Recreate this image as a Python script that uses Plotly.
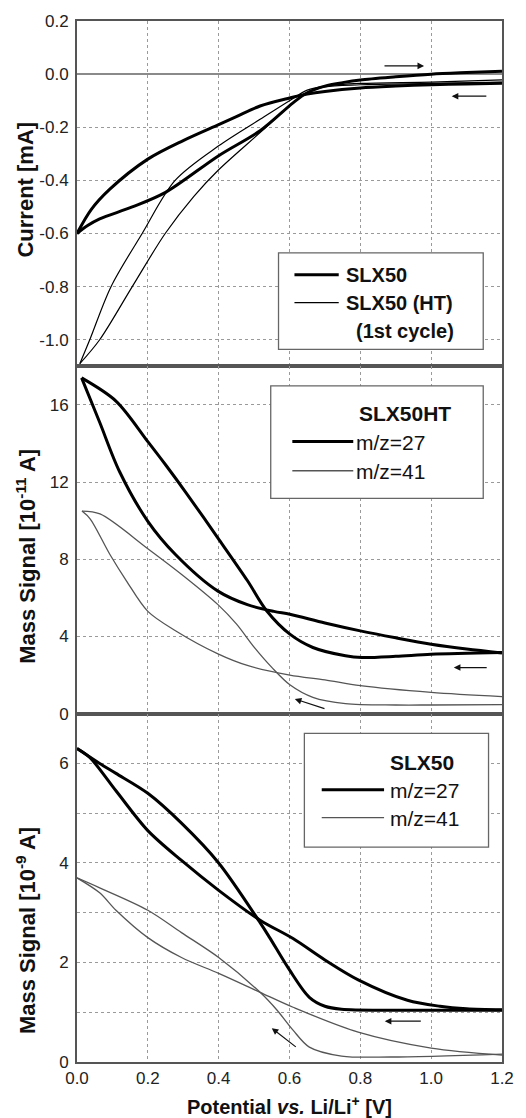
import plotly.graph_objects as go
from plotly.subplots import make_subplots

# ---------------- data ----------------
# Top panel: cyclic voltammograms (current, mA); each loop as two sweep branches
slx50_neg_x = [1.2, 1.1, 1.0, 0.9, 0.8, 0.7, 0.65, 0.6, 0.517, 0.45, 0.4, 0.3, 0.2, 0.092, 0.04, 0.0]
slx50_neg_y = [-0.034, -0.037, -0.04, -0.045, -0.052, -0.065, -0.075, -0.09, -0.12, -0.16, -0.19, -0.25, -0.32, -0.434, -0.51, -0.6]
slx50_pos_x = [0.0, 0.03, 0.064, 0.156, 0.25, 0.4, 0.517, 0.61, 0.65, 0.7, 0.75, 0.8, 0.9, 1.0, 1.1, 1.2]
slx50_pos_y = [-0.6, -0.57, -0.545, -0.50, -0.445, -0.307, -0.213, -0.108, -0.07, -0.045, -0.032, -0.022, -0.01, 0.0, 0.006, 0.011]
slx50ht_neg_x = [1.2, 1.0, 0.8, 0.7, 0.65, 0.6, 0.517, 0.4, 0.277, 0.184, 0.096, 0.036, 0.008]
slx50ht_neg_y = [-0.022, -0.03, -0.035, -0.045, -0.06, -0.1, -0.17, -0.27, -0.4, -0.6, -0.8, -1.0, -1.09]
slx50ht_pos_x = [0.008, 0.064, 0.156, 0.249, 0.33, 0.4, 0.517, 0.6, 0.65, 0.7, 0.8, 1.0, 1.2]
slx50ht_pos_y = [-1.09, -1.0, -0.8, -0.6, -0.46, -0.36, -0.22, -0.12, -0.07, -0.048, -0.04, -0.035, -0.03]

# Middle panel: SLX50HT mass signals (1e-11 A)
ht27_a_x = [1.2, 1.1, 1.0, 0.9, 0.8, 0.7, 0.601, 0.556, 0.481, 0.398, 0.278, 0.2, 0.12, 0.064, 0.013]
ht27_a_y = [3.15, 3.35, 3.6, 3.93, 4.29, 4.7, 5.15, 5.3, 5.65, 6.35, 8.25, 9.97, 12.55, 15.1, 17.4]
ht27_b_x = [0.013, 0.11, 0.2, 0.25, 0.306, 0.398, 0.481, 0.536, 0.601, 0.666, 0.758, 0.805, 0.9, 1.0, 1.2]
ht27_b_y = [17.4, 16.2, 14.1, 12.9, 11.5, 9.1, 6.9, 5.32, 4.12, 3.43, 3.0, 2.91, 2.97, 3.08, 3.17]
ht41_a_x = [1.2, 1.0, 0.8, 0.7, 0.601, 0.481, 0.398, 0.278, 0.2, 0.139, 0.093, 0.037, 0.014]
ht41_a_y = [0.88, 1.1, 1.45, 1.75, 2.0, 2.5, 3.1, 4.3, 5.3, 6.9, 8.25, 10.1, 10.5]
ht41_b_x = [0.014, 0.065, 0.2, 0.3, 0.398, 0.45, 0.5, 0.55, 0.601, 0.666, 0.758, 0.9, 1.0, 1.2]
ht41_b_y = [10.5, 10.35, 8.55, 7.15, 5.65, 4.65, 3.45, 2.4, 1.5, 0.85, 0.52, 0.45, 0.45, 0.47]

# Bottom panel: SLX50 mass signals (1e-9 A)
s27_a_x = [1.2, 1.1, 1.025, 0.933, 0.794, 0.7, 0.61, 0.517, 0.4, 0.295, 0.2, 0.11, 0.036, 0.0]
s27_a_y = [1.05, 1.07, 1.12, 1.24, 1.65, 2.05, 2.48, 2.85, 3.45, 4.05, 4.65, 5.45, 6.12, 6.3]
s27_b_x = [0.0, 0.064, 0.11, 0.2, 0.295, 0.4, 0.517, 0.544, 0.6, 0.656, 0.7, 0.747, 0.886, 1.0, 1.2]
s27_b_y = [6.3, 6.0, 5.8, 5.4, 4.8, 4.0, 2.8, 2.5, 1.85, 1.3, 1.12, 1.06, 1.04, 1.04, 1.04]
s41_a_x = [1.2, 1.0, 0.794, 0.61, 0.517, 0.4, 0.295, 0.2, 0.11, 0.064, 0.0]
s41_a_y = [0.14, 0.28, 0.6, 1.1, 1.4, 1.78, 2.1, 2.5, 3.05, 3.4, 3.7]
s41_b_x = [0.0, 0.064, 0.2, 0.295, 0.4, 0.517, 0.565, 0.61, 0.656, 0.747, 0.886, 1.2]
s41_b_y = [3.7, 3.5, 3.05, 2.6, 2.1, 1.4, 1.04, 0.64, 0.3, 0.12, 0.1, 0.16]

x_ticks = [0.0, 0.2, 0.4, 0.6, 0.8, 1.0, 1.2]
x_ticktext = ["0.0", "0.2", "0.4", "0.6", "0.8", "1.0", "1.2"]
top_ticks = [0.2, 0.0, -0.2, -0.4, -0.6, -0.8, -1.0]
top_ticktext = ["0.2", "0.0", "-0.2", "-0.4", "-0.6", "-0.8", "-1.0"]
mid_ticks = [0, 4, 8, 12, 16]
bot_ticks = [0, 2, 4, 6]

# ---------------- figure ----------------
FONT = "Liberation Sans, Arial, Helvetica, sans-serif"
fig = make_subplots(rows=3, cols=1, shared_xaxes=True, vertical_spacing=0)

THICK = dict(color="black", width=3)
THIN_TOP = dict(color="black", width=1.2)
THIN_GRAY = dict(color="#555555", width=1.3)


def add(x, y, line, name, row):
    fig.add_trace(go.Scatter(x=x, y=y, mode="lines", line=dict(shape="spline", smoothing=0.9, **line),
                             name=name), row, 1)


add(slx50_neg_x, slx50_neg_y, THICK, "SLX50", 1)
add(slx50_pos_x, slx50_pos_y, THICK, "SLX50", 1)
add(slx50ht_neg_x, slx50ht_neg_y, THIN_TOP, "SLX50 (HT)", 1)
add(slx50ht_pos_x, slx50ht_pos_y, THIN_TOP, "SLX50 (HT)", 1)
add(ht27_a_x, ht27_a_y, THICK, "m/z=27", 2)
add(ht27_b_x, ht27_b_y, THICK, "m/z=27", 2)
add(ht41_a_x, ht41_a_y, THIN_GRAY, "m/z=41", 2)
add(ht41_b_x, ht41_b_y, THIN_GRAY, "m/z=41", 2)
add(s27_a_x, s27_a_y, THICK, "m/z=27", 3)
add(s27_b_x, s27_b_y, THICK, "m/z=27", 3)
add(s41_a_x, s41_a_y, THIN_GRAY, "m/z=41", 3)
add(s41_b_x, s41_b_y, THIN_GRAY, "m/z=41", 3)

axis_common = dict(showline=True, mirror=True, linecolor="#555555", linewidth=2,
                   showgrid=True, gridcolor="#9a9a9a", griddash="dot", gridwidth=1,
                   ticks="", tickfont=dict(family=FONT, size=17, color="#222"))

bottom_y = 56
top_m = 19
H = 1118
plot_h = H - bottom_y - top_m
d1 = (1062 - 365) / plot_h
d2 = (1062 - 713) / plot_h

fig.update_xaxes(range=[0, 1.2], tickvals=x_ticks, ticktext=x_ticktext, zeroline=False,
                 ticklabelstandoff=0, **axis_common)
fig.update_xaxes(showticklabels=False, row=1, col=1)
fig.update_xaxes(showticklabels=False, row=2, col=1)

fig.update_yaxes(range=[-1.1, 0.2], tickvals=top_ticks, ticktext=top_ticktext,
                 zeroline=True, zerolinecolor="#8a8a8a", zerolinewidth=1.5,
                 domain=[d1, 1.0], row=1, col=1, ticklabelstandoff=3, **axis_common)
fig.update_yaxes(range=[0, 18], tickvals=mid_ticks, zeroline=False,
                 domain=[d2, d1], row=2, col=1, ticklabelstandoff=3, **axis_common)
fig.update_yaxes(range=[0, 7], tickvals=bot_ticks, zeroline=False,
                 minor=dict(dtick=1, showgrid=True, gridcolor="#9a9a9a", griddash="dot", gridwidth=1),
                 domain=[0, d2], row=3, col=1, ticklabelstandoff=3, **axis_common)

shapes = []
annotations = []


def box(xref, yref, x0, x1, y0, y1):
    shapes.append(dict(type="rect", xref=xref, yref=yref, x0=x0, x1=x1, y0=y0, y1=y1,
                       fillcolor="white", line=dict(color="#666666", width=1.3), layer="above"))


def seg(xref, yref, x0, x1, y, line):
    shapes.append(dict(type="line", xref=xref, yref=yref, x0=x0, x1=x1, y0=y, y1=y,
                       line=line, layer="above"))


def label(xref, yref, x, y, text, size=20):
    annotations.append(dict(xref=xref, yref=yref, x=x, y=y, text=text, showarrow=False,
                            xanchor="left", yanchor="middle",
                            font=dict(family=FONT, size=size, color="#111")))


def arrow(xref, yref, x0, y0, x1, y1):
    annotations.append(dict(xref=xref, yref=yref, axref=xref, ayref=yref, x=x1, y=y1, ax=x0, ay=y0,
                            text="", showarrow=True, arrowhead=2, arrowsize=1.1, arrowwidth=1.2,
                            arrowcolor="#111"))


# top legend
box("x", "y", 0.569, 1.147, -1.036, -0.673)
seg("x", "y", 0.614, 0.739, -0.755, THICK)
seg("x", "y", 0.614, 0.739, -0.860, THIN_TOP)
label("x", "y", 0.755, -0.755, "<b>SLX50</b>")
label("x", "y", 0.755, -0.860, "<b>SLX50 (HT)</b>")
label("x", "y", 0.783, -0.968, "<b>(1st cycle)</b>")

# middle legend
box("x2", "y2", 0.547, 1.147, 11.16, 16.99)
label("x2", "y2", 0.79, 15.56, "<b>SLX50HT</b>", size=21)
seg("x2", "y2", 0.608, 0.78, 14.1, THICK)
seg("x2", "y2", 0.608, 0.78, 12.59, THIN_GRAY)
label("x2", "y2", 0.782, 14.05, "m/z=27", size=21)
label("x2", "y2", 0.782, 12.57, "m/z=41", size=21)

# bottom legend
box("x3", "y3", 0.642, 1.162, 4.319, 6.606)
label("x3", "y3", 0.879, 6.024, "<b>SLX50</b>", size=21)
seg("x3", "y3", 0.691, 0.867, 5.47, THICK)
seg("x3", "y3", 0.691, 0.867, 4.91, THIN_GRAY)
label("x3", "y3", 0.879, 5.45, "m/z=27", size=21)
label("x3", "y3", 0.879, 4.89, "m/z=41", size=21)

# sweep direction arrows
arrow("x", "y", 0.864, 0.031, 0.98, 0.031)
arrow("x", "y", 1.16, -0.083, 1.058, -0.083)
arrow("x2", "y2", 1.161, 2.39, 1.064, 2.39)
arrow("x2", "y2", 0.703, 0.24, 0.615, 0.76)
arrow("x3", "y3", 0.975, 0.82, 0.869, 0.82)
arrow("x3", "y3", 0.622, 0.28, 0.55, 0.68)


# axis titles as annotations
def ytitle(text, ypix):
    annotations.append(dict(xref="paper", yref="paper", x=(25 - 77) / 432, y=(1062 - ypix) / plot_h,
                            text=text, showarrow=False, textangle=-90, xanchor="center", yanchor="middle",
                            font=dict(family=FONT, size=22, color="#111")))


ytitle("<b>Current [mA]</b>", 188)
ytitle("<b>Mass Signal [10<sup>-11</sup> A]</b>", 555)
ytitle("<b>Mass Signal [10<sup>-9</sup> A]</b>", 930)
annotations.append(dict(xref="paper", yref="paper", x=0.5, y=(1062 - 1106) / plot_h,
                        text="<b>Potential <i>vs.</i> Li/Li<sup>+</sup> [V]</b>", showarrow=False,
                        xanchor="center", yanchor="middle",
                        font=dict(family=FONT, size=20, color="#111")))

fig.update_layout(width=526, height=1118, margin=dict(l=77, r=17, t=top_m, b=bottom_y),
                  plot_bgcolor="white", paper_bgcolor="white", showlegend=False,
                  shapes=shapes, annotations=annotations)

fig.write_html("out.html")
